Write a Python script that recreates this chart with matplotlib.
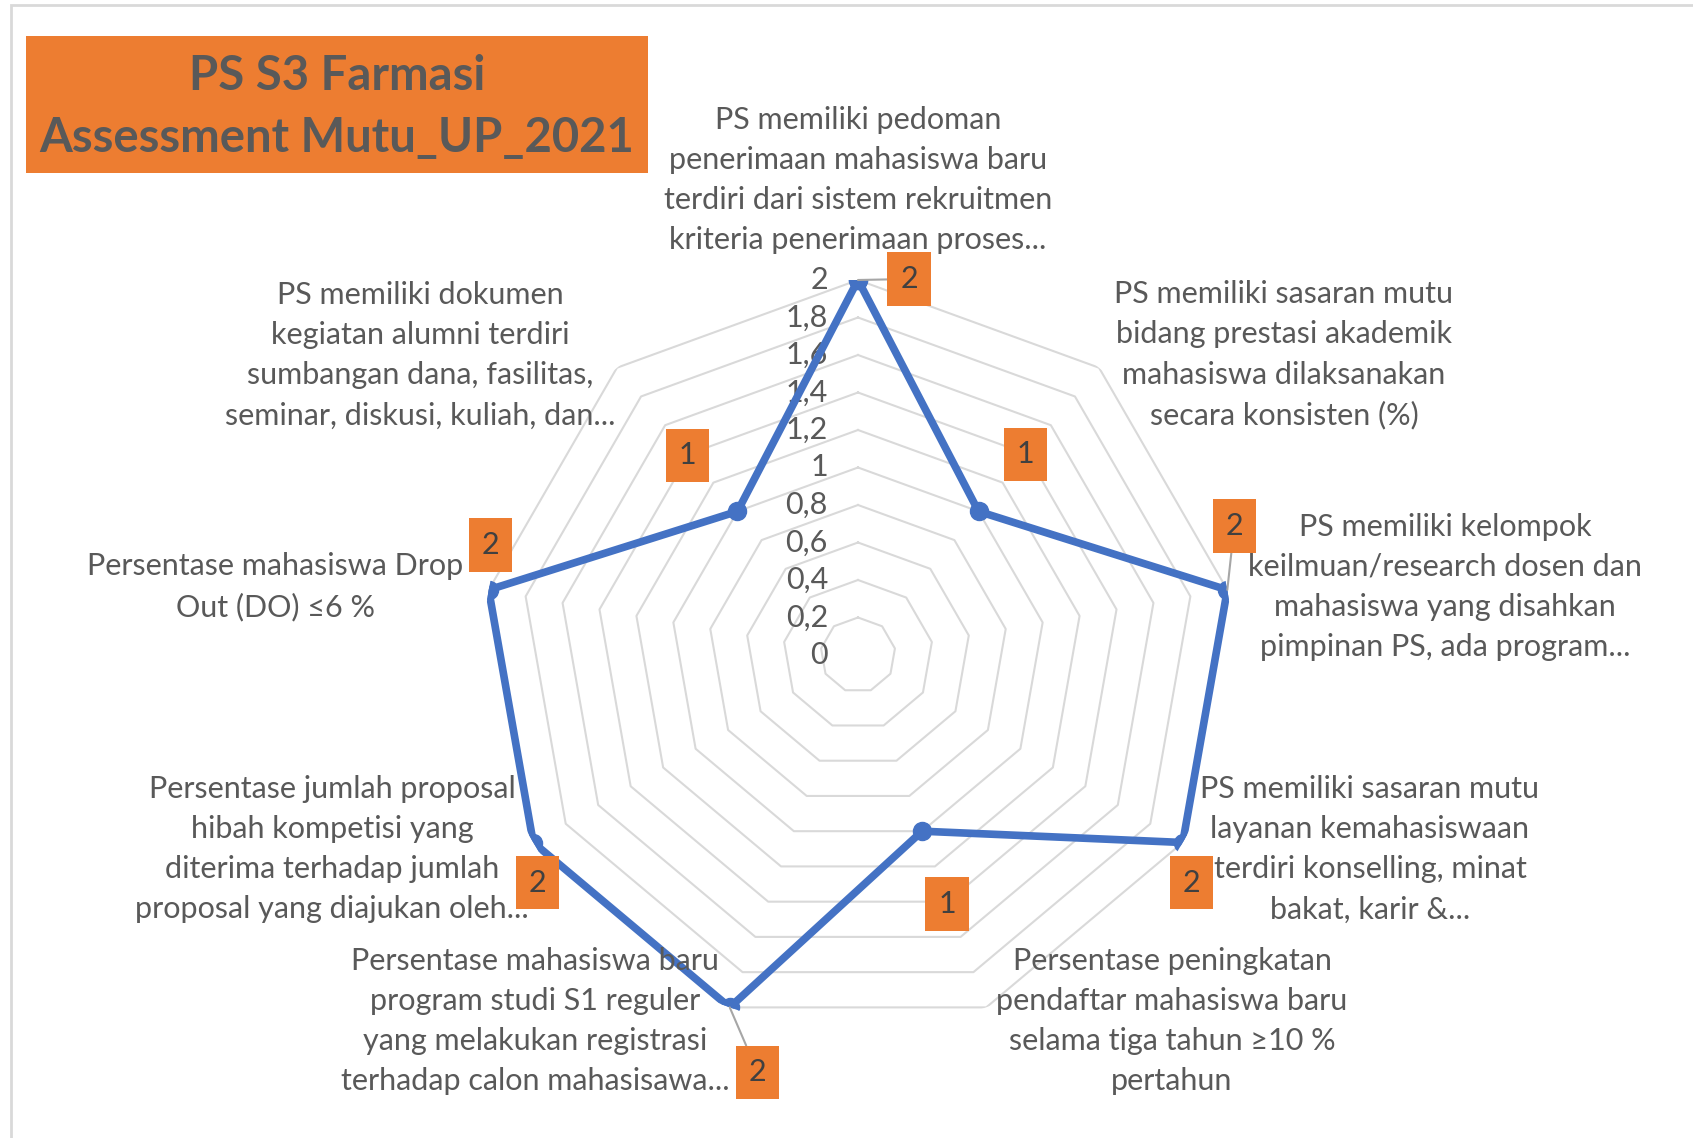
import numpy as np
import matplotlib
matplotlib.use("Agg")
from matplotlib import pyplot as plt
from matplotlib.patches import Rectangle

plt.rcParams['font.family'] = ['Lato', 'DejaVu Sans']

# data
categories = [
    "PS memiliki pedoman\npenerimaan mahasiswa baru\nterdiri dari sistem rekruitmen\nkriteria penerimaan proses...",
    "PS memiliki sasaran mutu\nbidang prestasi akademik\nmahasiswa dilaksanakan\nsecara konsisten (%)",
    "PS memiliki kelompok\nkeilmuan/research dosen dan\nmahasiswa yang disahkan\npimpinan PS, ada program...",
    "PS memiliki sasaran mutu\nlayanan kemahasiswaan\nterdiri konselling, minat\nbakat, karir &...",
    "Persentase peningkatan\npendaftar mahasiswa baru\nselama tiga tahun \u226510 %\npertahun",
    "Persentase mahasiswa baru\nprogram studi S1 reguler\nyang melakukan registrasi\nterhadap calon mahasisawa...",
    "Persentase jumlah proposal\nhibah kompetisi yang\nditerima terhadap jumlah\nproposal yang diajukan oleh...",
    "Persentase mahasiswa Drop\nOut (DO) \u22646 %",
    "PS memiliki dokumen\nkegiatan alumni terdiri\nsumbangan dana, fasilitas,\nseminar, diskusi, kuliah, dan...",
]
values = [2, 1, 2, 2, 1, 2, 2, 2, 1]
ring_levels = [0.2, 0.4, 0.6, 0.8, 1.0, 1.2, 1.4, 1.6, 1.8, 2.0]
tick_labels = ["0", "0,2", "0,4", "0,6", "0,8", "1", "1,2", "1,4", "1,6", "1,8", "2"]
title_lines = ["PS S3 Farmasi", "Assessment Mutu_UP_2021"]

# layout (pixels in the 1693x1138 picture)
W, H = 1693, 1138
cx, cy, R = 858, 655, 375
label_centers = [(858, 180), (1284, 355), (1445, 587), (1370, 849), (1172, 1021),
                 (535, 1021), (332, 849), (275, 587), (420, 355)]
box_offsets = [(51, 1), (47, 57), (7, 64), (9, -40), (25, -73),
               (28, -65), (4, -40), (2, 45), (-50, 56)]
leaders = [True, False, True, False, False, True, False, False, False]

TEXT = "#595959"
GRID = "#D9D9D9"
BLUE = "#4472C4"
ORANGE = "#ED7D31"

fig = plt.figure(figsize=(W / 100, H / 100), dpi=100)

# chart frame
fig.patches.append(Rectangle((11 / W, -0.1), 1.2, 1 - 5 / H + 0.1, transform=fig.transFigure,
                             fill=False, edgecolor=GRID, linewidth=2))

ax = fig.add_axes([(cx - R) / W, (H - cy - R) / H, 2 * R / W, 2 * R / H], projection='polar')
ax.set_theta_zero_location('N')
ax.set_theta_direction(-1)
ax.set_ylim(0, 2)
ax.grid(False)
ax.spines['polar'].set_visible(False)
ax.set_xticks([])
ax.set_yticks([])
ax.patch.set_alpha(0)

n = len(categories)
theta = np.arange(n) * 2 * np.pi / n
theta_closed = np.append(theta, theta[0])

for lv in ring_levels:
    ax.plot(theta_closed, [lv] * (n + 1), color=GRID, lw=1.5, zorder=1)

vals_closed = values + values[:1]
ax.plot(theta_closed, vals_closed, color=BLUE, lw=5.5, zorder=3, solid_joinstyle='round',
        marker='o', markersize=13, markerfacecolor=BLUE, markeredgecolor=BLUE)

# radial tick labels
for i, lab in enumerate(tick_labels):
    r = i * 0.2
    ax.annotate(lab, xy=(0, r), xytext=(-30, 0), textcoords='offset pixels',
                ha='right', va='center', fontsize=22, color=TEXT, zorder=2)

# data labels
for i, v in enumerate(values):
    ap = dict(arrowstyle='-', color='#A6A6A6', lw=1.5, shrinkA=0, shrinkB=0) if leaders[i] else None
    ax.annotate(str(v), xy=(theta[i], v), xytext=box_offsets[i], textcoords='offset pixels',
                ha='center', va='center', fontsize=22, color='#404040', zorder=5,
                bbox=dict(boxstyle='square,pad=0.42', facecolor=ORANGE, edgecolor='none'),
                arrowprops=ap)

# category labels
for lab, (x, y) in zip(categories, label_centers):
    fig.text(x / W, 1 - y / H, lab, ha='center', va='center', multialignment='center',
             fontsize=22, color=TEXT, linespacing=1.53)

# title box
fig.patches.append(Rectangle((26 / W, 1 - 173 / H), 622 / W, 137 / H, transform=fig.transFigure,
                             facecolor=ORANGE, edgecolor='none'))
fig.text(337 / W, 1 - 76 / H, title_lines[0], ha='center', va='center',
         fontsize=34, fontweight='bold', color=TEXT)
fig.text(337 / W, 1 - 138 / H, title_lines[1], ha='center', va='center',
         fontsize=34, fontweight='bold', color=TEXT)

fig.savefig("out.png", dpi=100)
